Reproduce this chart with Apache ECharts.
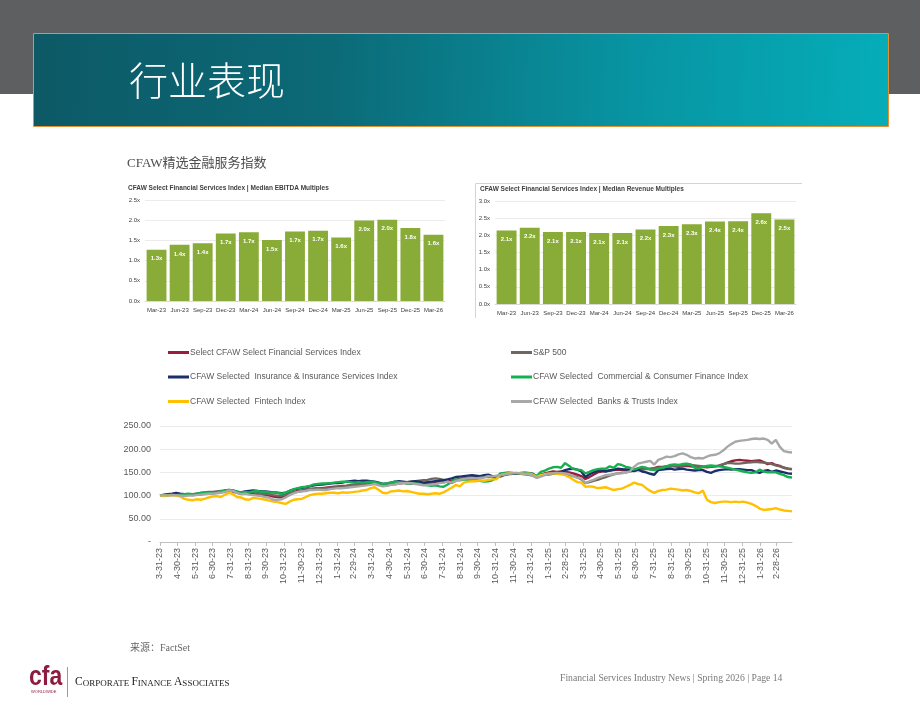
<!DOCTYPE html>
<html>
<head>
<meta charset="utf-8">
<script src="https://cdn.jsdelivr.net/npm/echarts@6/dist/echarts.min.js"></script>
<style>
html, body { margin: 0; padding: 0; background: #fff; }
#page { width: 920px; height: 711px; }
</style>
</head>
<body>
<div id="page"></div>
<script>
// bar panels
var barCats = ['Mar-23', 'Jun-23', 'Sep-23', 'Dec-23', 'Mar-24', 'Jun-24', 'Sep-24', 'Dec-24', 'Mar-25', 'Jun-25', 'Sep-25', 'Dec-25', 'Mar-26'];
var ebitda = [1.27, 1.39, 1.43, 1.67, 1.70, 1.51, 1.72, 1.74, 1.57, 1.99, 2.01, 1.81, 1.64];
var revenue = [2.14, 2.22, 2.10, 2.10, 2.07, 2.07, 2.17, 2.27, 2.32, 2.40, 2.41, 2.64, 2.46];

// index lines: weekly closes from 3-31-23, rebased to 100
var startDate = '3-31-23';
var tickLabels = ['3-31-23', '4-30-23', '5-31-23', '6-30-23', '7-31-23', '8-31-23', '9-30-23', '10-31-23', '11-30-23', '12-31-23',
    '1-31-24', '2-29-24', '3-31-24', '4-30-24', '5-31-24', '6-30-24', '7-31-24', '8-31-24', '9-30-24', '10-31-24', '11-30-24', '12-31-24',
    '1-31-25', '2-28-25', '3-31-25', '4-30-25', '5-31-25', '6-30-25', '7-31-25', '8-31-25', '9-30-25', '10-31-25', '11-30-25', '12-31-25',
    '1-31-26', '2-28-26'];

var selectIdx = [
    100, 101, 101, 102, 102, 101, 101, 102, 101, 102, 103, 104, 105,
    105, 106, 107, 109, 111, 109, 106, 104, 105, 104, 103, 102, 101,
    101, 100, 98, 97, 96, 98, 103, 107, 110, 111, 113, 114, 115,
    116, 116, 117, 118, 119, 120, 121, 121, 122, 123, 123, 124, 125,
    126, 127, 124, 122, 123, 124, 125, 126, 127, 127, 126, 127, 126,
    125, 126, 126, 127, 128, 129, 130, 132, 134, 136, 137, 138, 139,
    140, 139, 140, 141, 140, 139, 143, 145, 147, 148, 147, 148, 147,
    146, 145, 140, 144, 148, 150, 152, 151, 152, 151, 150, 148, 145,
    142, 136, 140, 145, 150, 152, 153, 154, 155, 156, 155, 156, 157,
    156, 157, 158, 158, 157, 159, 162, 162, 163, 164, 163, 162, 163,
    164, 163, 162, 161, 162, 161, 162, 163, 164, 167, 171, 174, 176,
    177, 176, 175, 174, 175, 176, 172, 168, 170, 166, 164, 160, 158,
    157];
var sp500 = [
    100, 101, 102, 101, 101, 102, 101, 102, 102, 104, 106, 107, 108,
    108, 109, 110, 111, 112, 111, 108, 107, 108, 109, 108, 106, 104,
    104, 103, 101, 100, 100, 103, 105, 107, 108, 110, 112, 114, 115,
    116, 115, 116, 117, 118, 118, 120, 121, 123, 124, 125, 126, 127,
    128, 127, 124, 121, 122, 124, 126, 128, 128, 129, 130, 131, 132,
    133, 134, 136, 137, 136, 134, 130, 127, 132, 135, 137, 137, 138,
    139, 140, 141, 140, 141, 139, 141, 144, 146, 147, 148, 147, 146,
    145, 143, 139, 144, 147, 148, 149, 150, 149, 146, 144, 142, 140,
    135, 127, 129, 132, 134, 137, 140, 143, 146, 148, 149, 150, 152,
    154, 155, 156, 157, 158, 159, 160, 161, 162, 163, 164, 165, 165,
    166, 166, 165, 164, 163, 162, 162, 163, 165, 168, 170, 170, 169,
    169, 170, 171, 172, 173, 172, 171, 170, 168, 165, 163, 160, 158,
    157];
var insurance = [
    100, 102, 103, 104, 106, 104, 103, 103, 102, 103, 104, 105, 105,
    106, 107, 108, 110, 111, 110, 108, 107, 109, 110, 111, 110, 109,
    109, 108, 107, 106, 105, 106, 110, 113, 115, 117, 118, 120, 122,
    123, 124, 125, 126, 127, 127, 128, 130, 131, 132, 131, 132, 132,
    131, 130, 128, 125, 126, 128, 130, 131, 130, 129, 130, 131, 130,
    128, 129, 130, 131, 132, 133, 135, 137, 140, 141, 142, 143, 144,
    143, 142, 144, 145, 142, 138, 143, 146, 148, 148, 147, 148, 148,
    148, 147, 141, 145, 145, 146, 147, 149, 151, 155, 157, 158, 156,
    152, 140, 146, 150, 153, 154, 152, 154, 156, 158, 157, 156, 155,
    153, 156, 152, 150, 147, 145, 155, 156, 157, 158, 156, 157, 158,
    156, 155, 154, 155, 155, 151, 149, 153, 155, 156, 157, 156, 157,
    157, 156, 155, 155, 151, 149, 153, 155, 151, 154, 152, 150, 148,
    147];
var commercial = [
    100, 101, 101, 102, 101, 102, 103, 104, 103, 104, 105, 106, 106,
    107, 107, 109, 110, 112, 111, 109, 107, 108, 107, 109, 110, 108,
    108, 107, 107, 106, 104, 106, 110, 114, 116, 118, 119, 121, 124,
    125, 126, 126, 127, 128, 129, 130, 130, 129, 128, 129, 128, 129,
    130, 129, 127, 125, 126, 128, 130, 129, 128, 126, 127, 126, 125,
    123, 122, 121, 122, 120, 119, 124, 130, 135, 133, 135, 134, 134,
    134, 132, 130, 131, 133, 138, 148, 149, 150, 149, 148, 149, 150,
    149, 146, 142, 151, 154, 158, 161, 162, 160, 170, 164, 157, 156,
    155, 148, 151, 155, 157, 158, 158, 163, 160, 168, 166, 162, 160,
    156, 159, 162, 160, 156, 155, 158, 160, 163, 166, 167, 166, 168,
    169, 167, 160, 158, 162, 164, 165, 164, 163, 162, 160, 158, 156,
    154, 152, 150, 149, 150, 156, 152, 150, 151, 150, 147, 144, 140,
    139];
var fintech = [
    100, 99, 100, 101, 100, 98, 93, 91, 90, 92, 91, 93, 96,
    98, 99, 97, 102, 106, 103, 97, 96, 92, 91, 95, 94, 93,
    91, 89, 87, 86, 84, 82, 87, 91, 92, 93, 97, 101, 103,
    104, 104, 105, 106, 106, 105, 107, 106, 107, 108, 109, 111, 112,
    116, 118, 112, 106, 105, 109, 110, 111, 109, 110, 108, 106, 104,
    104, 103, 104, 105, 104, 107, 112, 117, 123, 120, 128, 130, 131,
    131, 133, 132, 134, 135, 135, 144, 146, 148, 149, 149, 148, 146,
    147, 145, 140, 144, 146, 147, 148, 147, 146, 144, 140, 134, 129,
    128, 119, 120, 119, 116, 117, 118, 115, 112, 114, 115, 119, 123,
    128, 125, 123, 116, 110, 106, 110, 112, 113, 115, 114, 113, 111,
    112, 110, 107, 105, 111, 91, 86, 84, 86, 87, 87, 86, 87,
    86, 87, 85, 82, 78, 72, 69, 70, 71, 73, 70, 68, 67,
    66];
var banks = [
    100, 101, 100, 101, 101, 100, 99, 100, 100, 101, 102, 103, 104,
    104, 105, 106, 108, 111, 110, 106, 103, 104, 102, 101, 100, 99,
    97, 95, 91, 91, 92, 96, 101, 105, 108, 109, 110, 112, 112,
    113, 112, 112, 114, 115, 116, 116, 117, 118, 119, 120, 121, 122,
    123, 125, 122, 120, 121, 123, 124, 126, 127, 128, 127, 125, 124,
    122, 123, 124, 125, 127, 128, 130, 128, 131, 134, 136, 137, 138,
    137, 138, 139, 142, 141, 143, 144, 146, 147, 148, 149, 148, 147,
    146, 143, 138, 141, 144, 147, 148, 149, 149, 148, 146, 142, 138,
    137, 127, 131, 134, 138, 141, 144, 145, 146, 148, 148, 150, 152,
    162, 169, 171, 173, 175, 167, 177, 180, 184, 183, 185, 189, 191,
    188, 183, 180, 181, 180, 184, 187, 188, 191, 197, 205, 211, 216,
    218, 219, 220, 222, 223, 222, 223, 220, 212, 220, 205, 196, 194,
    193];

var lineNames = ['Select CFAW Select Financial Services Index', 'S&P 500',
    'CFAW Selected  Insurance & Insurance Services Index', 'CFAW Selected  Commercial & Consumer Finance Index',
    'CFAW Selected  Fintech Index', 'CFAW Selected  Banks & Trusts Index'];
var lineColors = ['#9a1d3c', '#6f675e', '#1b2f6b', '#16b050', '#ffc000', '#a8a8a8'];
var lineData = [selectIdx, sp500, insurance, commercial, fintech, banks];

// days since start for a m-d-yy string
function dayOf(s) {
    var p = s.split('-');
    var q = startDate.split('-');
    return Math.round((Date.UTC(2000 + +p[2], p[0] - 1, +p[1]) - Date.UTC(2000 + +q[2], q[0] - 1, +q[1])) / 86400000);
}
var tickDays = tickLabels.map(dayOf);

var myChart = echarts.init(document.getElementById('page'));

var barLabel = {
    show: true,
    position: 'insideTop',
    distance: 6,
    color: '#fff',
    fontSize: 6,
    fontWeight: 'bold',
    fontFamily: 'Liberation Sans',
    formatter: function (p) { return p.value.toFixed(1) + 'x'; }
};
var smallAxisLabel = { fontSize: 6, color: '#404040', fontFamily: 'Liberation Sans' };

var series = [
    {
        type: 'bar', xAxisIndex: 0, yAxisIndex: 0, data: ebitda,
        barCategoryGap: '14%', itemStyle: { color: '#89ab38' }, label: barLabel
    },
    {
        type: 'bar', xAxisIndex: 1, yAxisIndex: 1, data: revenue,
        barCategoryGap: '14%', itemStyle: { color: '#89ab38' }, label: barLabel
    }
];
for (var k = 0; k < lineNames.length; k++) {
    var pts = [];
    for (var j = 0; j < lineData[k].length; j++) {
        pts.push([j * 7, lineData[k][j]]);
    }
    series.push({
        name: lineNames[k],
        type: 'line',
        xAxisIndex: 2,
        yAxisIndex: 2,
        showSymbol: false,
        color: lineColors[k],
        lineStyle: { width: 2.4, color: lineColors[k] },
        data: pts
    });
}

var legendText = { fontSize: 8.5, color: '#595959', fontFamily: 'Liberation Sans', padding: [0, 0, 0, -4] };

option = {
    animation: false,
    title: [
        {
            text: 'CFAW Select Financial Services Index | Median EBITDA Multiples',
            left: 128, top: 185, padding: 0,
            textStyle: { fontSize: 6.5, fontWeight: 'bold', color: '#404040', fontFamily: 'Liberation Sans' }
        },
        {
            text: 'CFAW Select Financial Services Index | Median Revenue Multiples',
            left: 480, top: 186, padding: 0,
            textStyle: { fontSize: 6.5, fontWeight: 'bold', color: '#404040', fontFamily: 'Liberation Sans' }
        }
    ],
    legend: [
        {
            orient: 'vertical', left: 168, top: 348, itemGap: 15.5, padding: 0,
            itemWidth: 21, itemHeight: 3, icon: 'rect',
            data: [lineNames[0], lineNames[2], lineNames[4]],
            textStyle: legendText
        },
        {
            orient: 'vertical', left: 511, top: 348, itemGap: 15.5, padding: 0,
            itemWidth: 21, itemHeight: 3, icon: 'rect',
            data: [lineNames[1], lineNames[3], lineNames[5]],
            textStyle: legendText
        }
    ],
    grid: [
        { left: 145, top: 200, width: 300, height: 101 },
        { left: 495, top: 201, width: 301, height: 103 },
        { left: 160, top: 426, right: 128, height: 116 }
    ],
    xAxis: [
        {
            gridIndex: 0, type: 'category', data: barCats,
            axisLine: { lineStyle: { color: '#d9d9d9' } },
            axisTick: { show: false },
            axisLabel: Object.assign({ interval: 0, margin: 6 }, smallAxisLabel)
        },
        {
            gridIndex: 1, type: 'category', data: barCats,
            axisLine: { lineStyle: { color: '#d9d9d9' } },
            axisTick: { show: false },
            axisLabel: Object.assign({ interval: 0, margin: 6 }, smallAxisLabel)
        },
        {
            gridIndex: 2, type: 'value', min: 0, max: (fintech.length - 1) * 7,
            axisLine: { lineStyle: { color: '#bfbfbf' } },
            axisTick: { show: true, customValues: tickDays, length: 4, lineStyle: { color: '#bfbfbf' } },
            splitLine: { show: false },
            axisLabel: {
                customValues: tickDays,
                rotate: 90,
                margin: 6,
                fontSize: 9,
                color: '#595959',
                fontFamily: 'Liberation Sans',
                formatter: function (v) {
                    var best = 0;
                    for (var i = 0; i < tickDays.length; i++) {
                        if (Math.abs(tickDays[i] - v) < Math.abs(tickDays[best] - v)) best = i;
                    }
                    return tickLabels[best];
                }
            }
        }
    ],
    yAxis: [
        {
            gridIndex: 0, type: 'value', min: 0, max: 2.5, interval: 0.5,
            axisLine: { show: false }, axisTick: { show: false },
            splitLine: { lineStyle: { color: '#ececec' } },
            axisLabel: Object.assign({ margin: 5, formatter: function (v) { return v.toFixed(1) + 'x'; } }, smallAxisLabel)
        },
        {
            gridIndex: 1, type: 'value', min: 0, max: 3, interval: 0.5,
            axisLine: { show: false }, axisTick: { show: false },
            splitLine: { lineStyle: { color: '#ececec' } },
            axisLabel: Object.assign({ margin: 5, formatter: function (v) { return v.toFixed(1) + 'x'; } }, smallAxisLabel)
        },
        {
            gridIndex: 2, type: 'value', min: 0, max: 250, interval: 50,
            axisLine: { show: false }, axisTick: { show: false },
            splitLine: { lineStyle: { color: '#ececec' } },
            axisLabel: {
                fontSize: 9, color: '#595959', margin: 9, fontFamily: 'Liberation Sans',
                formatter: function (v) { return v === 0 ? '-' : v.toFixed(2); }
            }
        }
    ],
    graphic: [
        { type: 'rect', z: -10, shape: { x: 0, y: 0, width: 920, height: 94 }, style: { fill: '#5e5f61' } },
        {
            type: 'rect', z: -9, shape: { x: 33.5, y: 33.5, width: 855, height: 93 },
            style: {
                fill: new echarts.graphic.LinearGradient(0, 0, 1, 0.3, [
                    { offset: 0, color: '#0d5966' },
                    { offset: 0.35, color: '#0c6a77' },
                    { offset: 0.7, color: '#0894a2' },
                    { offset: 1, color: '#05adb9' }
                ]),
                stroke: '#e39133', lineWidth: 1
            }
        },
        {
            type: 'text', left: 129, top: 61,
            style: { text: '行业表现', fill: '#ffffff', fontSize: 39, fontWeight: 300, fontFamily: 'Noto Sans CJK SC' }
        },
        {
            type: 'text', left: 127, top: 157,
            style: { text: 'CFAW精选金融服务指数', fill: '#4d4d4d', fontSize: 13, fontFamily: 'Liberation Serif, Noto Sans CJK SC' }
        },
        {
            type: 'polyline', shape: { points: [[475.5, 318], [475.5, 183.5], [802, 183.5]] },
            style: { stroke: '#d4d4d4', lineWidth: 1, fill: null }
        },
        {
            type: 'text', left: 130, top: 643,
            style: { text: '来源：FactSet', fill: '#666666', fontSize: 10, fontFamily: 'Liberation Serif, Noto Sans CJK SC' }
        },
        {
            type: 'text', left: 29, top: 664, scaleX: 0.85,
            style: { text: 'cfa', fill: '#8c1d3e', fontSize: 27, fontWeight: 'bold', fontFamily: 'Liberation Sans' }
        },
        {
            type: 'text', left: 31, top: 690,
            style: { text: 'WORLDWIDE', fill: '#8c1d3e', fontSize: 4, fontFamily: 'Liberation Sans' }
        },
        {
            type: 'line', shape: { x1: 67.5, y1: 667, x2: 67.5, y2: 697 },
            style: { stroke: '#999999', lineWidth: 1 }
        },
        {
            type: 'text', left: 75, top: 676,
            style: {
                text: '{b|C}{s|ORPORATE }{b|F}{s|INANCE }{b|A}{s|SSOCIATES}',
                fill: '#222222',
                rich: {
                    b: { fontSize: 11.5, fontFamily: 'Liberation Serif', fill: '#222222', verticalAlign: 'bottom' },
                    s: { fontSize: 9, fontFamily: 'Liberation Serif', fill: '#222222', verticalAlign: 'bottom' }
                }
            }
        },
        {
            type: 'text', left: 560, top: 673, scaleX: 0.88,
            style: { text: 'Financial Services Industry News | Spring 2026 | Page 14', fill: '#7a7a7a', fontSize: 11, fontFamily: 'Liberation Serif' }
        }
    ],
    series: series
};

if (option && typeof option === 'object') {
    myChart.setOption(option);
}
</script>
</body>
</html>
